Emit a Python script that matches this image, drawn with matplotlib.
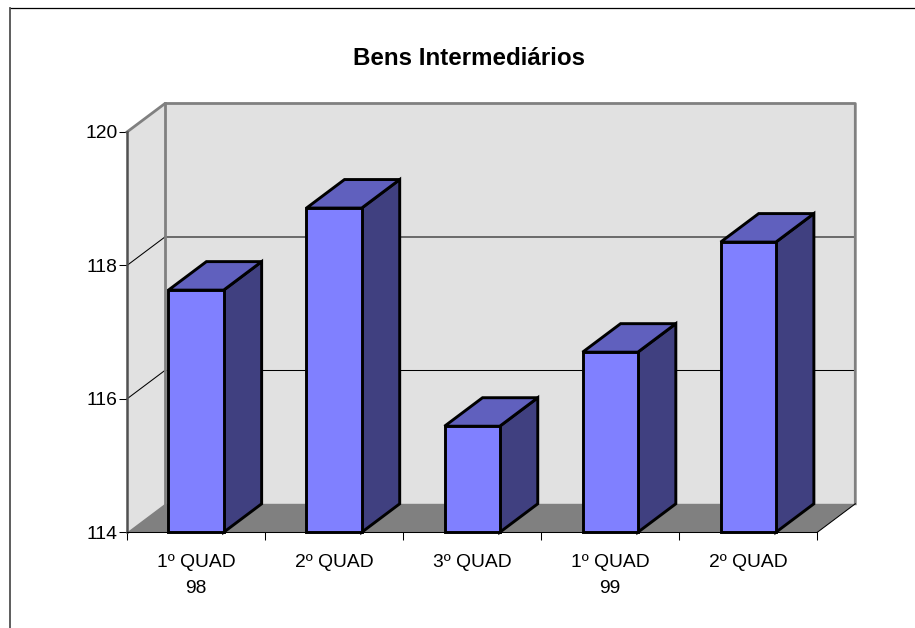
import matplotlib
matplotlib.use("Agg")
import matplotlib.pyplot as plt
from matplotlib.patches import Polygon

plt.rcParams['font.family'] = ['Liberation Sans', 'DejaVu Sans']

title = "Bens Intermediários"
categories = ["1º QUAD\n98", "2º QUAD", "3º QUAD", "1º QUAD\n99", "2º QUAD"]
values = [117.63, 118.86, 115.59, 116.70, 118.35]
y_ticks = [114, 116, 118, 120]

W, H = 915, 628
fig = plt.figure(figsize=(W / 100, H / 100), dpi=100, facecolor='white')

# front plane of the 3-D box, in pixels
L, R, T, B = 127, 817.3, 132, 532.3
ax = fig.add_axes([L / W, 1 - B / H, (R - L) / W, (B - T) / H])
ax.set_xlim(0, 5)
ax.set_ylim(114, 120)
ax.patch.set_visible(False)

# depth offset in data units
DX = 38 / ((R - L) / 5)
DY = 28.5 / ((B - T) / 6)
BAR = 0.4

WALL = '#E1E1E1'
FLOOR = '#808080'
EDGE = '#808080'
FRONT = '#8080FF'
TOP = '#6060BE'
SIDE = '#404080'


def poly(pts, fc, z, ec='none', lw=0):
    ax.add_patch(Polygon(pts, closed=True, facecolor=fc, edgecolor=ec, linewidth=lw,
                         zorder=z, clip_on=False, joinstyle='miter'))


def line(xs, ys, color, lw, z):
    ax.plot(xs, ys, color=color, lw=lw, zorder=z, clip_on=False, solid_capstyle='projecting')


y0, y1 = y_ticks[0], y_ticks[-1]
# walls and floor
poly([(DX, y0 + DY), (5 + DX, y0 + DY), (5 + DX, y1 + DY), (DX, y1 + DY)], WALL, 1)
poly([(0, y0), (DX, y0 + DY), (DX, y1 + DY), (0, y1)], WALL, 1)
poly([(0, y0), (5, y0), (5 + DX, y0 + DY), (DX, y0 + DY)], FLOOR, 1)

# gridlines
for v in y_ticks[1:-1]:
    c = '#606060' if v == 118 else 'black'
    w = 1.3 if v == 118 else 0.75
    line([DX, 5 + DX], [v + DY, v + DY], c, w, 2)
    line([0, DX], [v, v + DY], 'black', 0.75, 2)

# wall edges
line([0, DX, 5 + DX, 5 + DX], [y1, y1 + DY, y1 + DY, y0 + DY], EDGE, 2, 2)
line([DX, DX], [y1 + DY, y0 + DY], EDGE, 2, 2)
line([5, 5 + DX], [y0, y0 + DY], 'black', 0.75, 2)

# bars
for i, v in enumerate(values):
    x0 = i + 0.5 - BAR / 2
    x1 = x0 + BAR
    z = 3
    poly([(x1, y0), (x1 + DX, y0 + DY), (x1 + DX, v + DY), (x1, v)], SIDE, z, 'black', 2.1)
    poly([(x0, v), (x1, v), (x1 + DX, v + DY), (x0 + DX, v + DY)], TOP, z, 'black', 2.1)
    poly([(x0, y0), (x1, y0), (x1, v), (x0, v)], FRONT, z, 'black', 2.1)

# axes
for s in ('top', 'right'):
    ax.spines[s].set_visible(False)
ax.spines['left'].set_color('#505050')
ax.spines['left'].set_linewidth(1.8)
ax.spines['bottom'].set_color('black')
ax.spines['bottom'].set_linewidth(0.75)
ax.spines['left'].set_zorder(2.5)
ax.spines['bottom'].set_zorder(2.5)

ax.set_yticks(y_ticks)
ax.set_xticks(range(6))
ax.set_xticklabels([])
ax.set_xticks([i + 0.5 for i in range(5)], labels=categories, minor=True)
ax.tick_params(axis='y', length=5.5, width=0.75, labelsize=13.9, pad=1.2)
ax.tick_params(axis='x', which='major', length=5.5, width=0.75)
ax.tick_params(axis='x', which='minor', length=0, labelsize=13.9, pad=15.7)
for t in ax.get_xticklabels(minor=True):
    t.set_linespacing(1.65)

fig.text(468.5 / W, 1 - 58.5 / H, title, ha='center', va='center', fontsize=17.4, fontweight='bold')

# outer chart frame (top and left edges)
fig.add_artist(plt.Line2D([9.5 / W, 1], [1 - 7.5 / H, 1 - 7.5 / H], color='black', lw=0.9))
fig.add_artist(plt.Line2D([10 / W, 10 / W], [0, 1 - 7.5 / H], color='#505050', lw=1.3))

fig.savefig('out.png', dpi=100, facecolor='white')
